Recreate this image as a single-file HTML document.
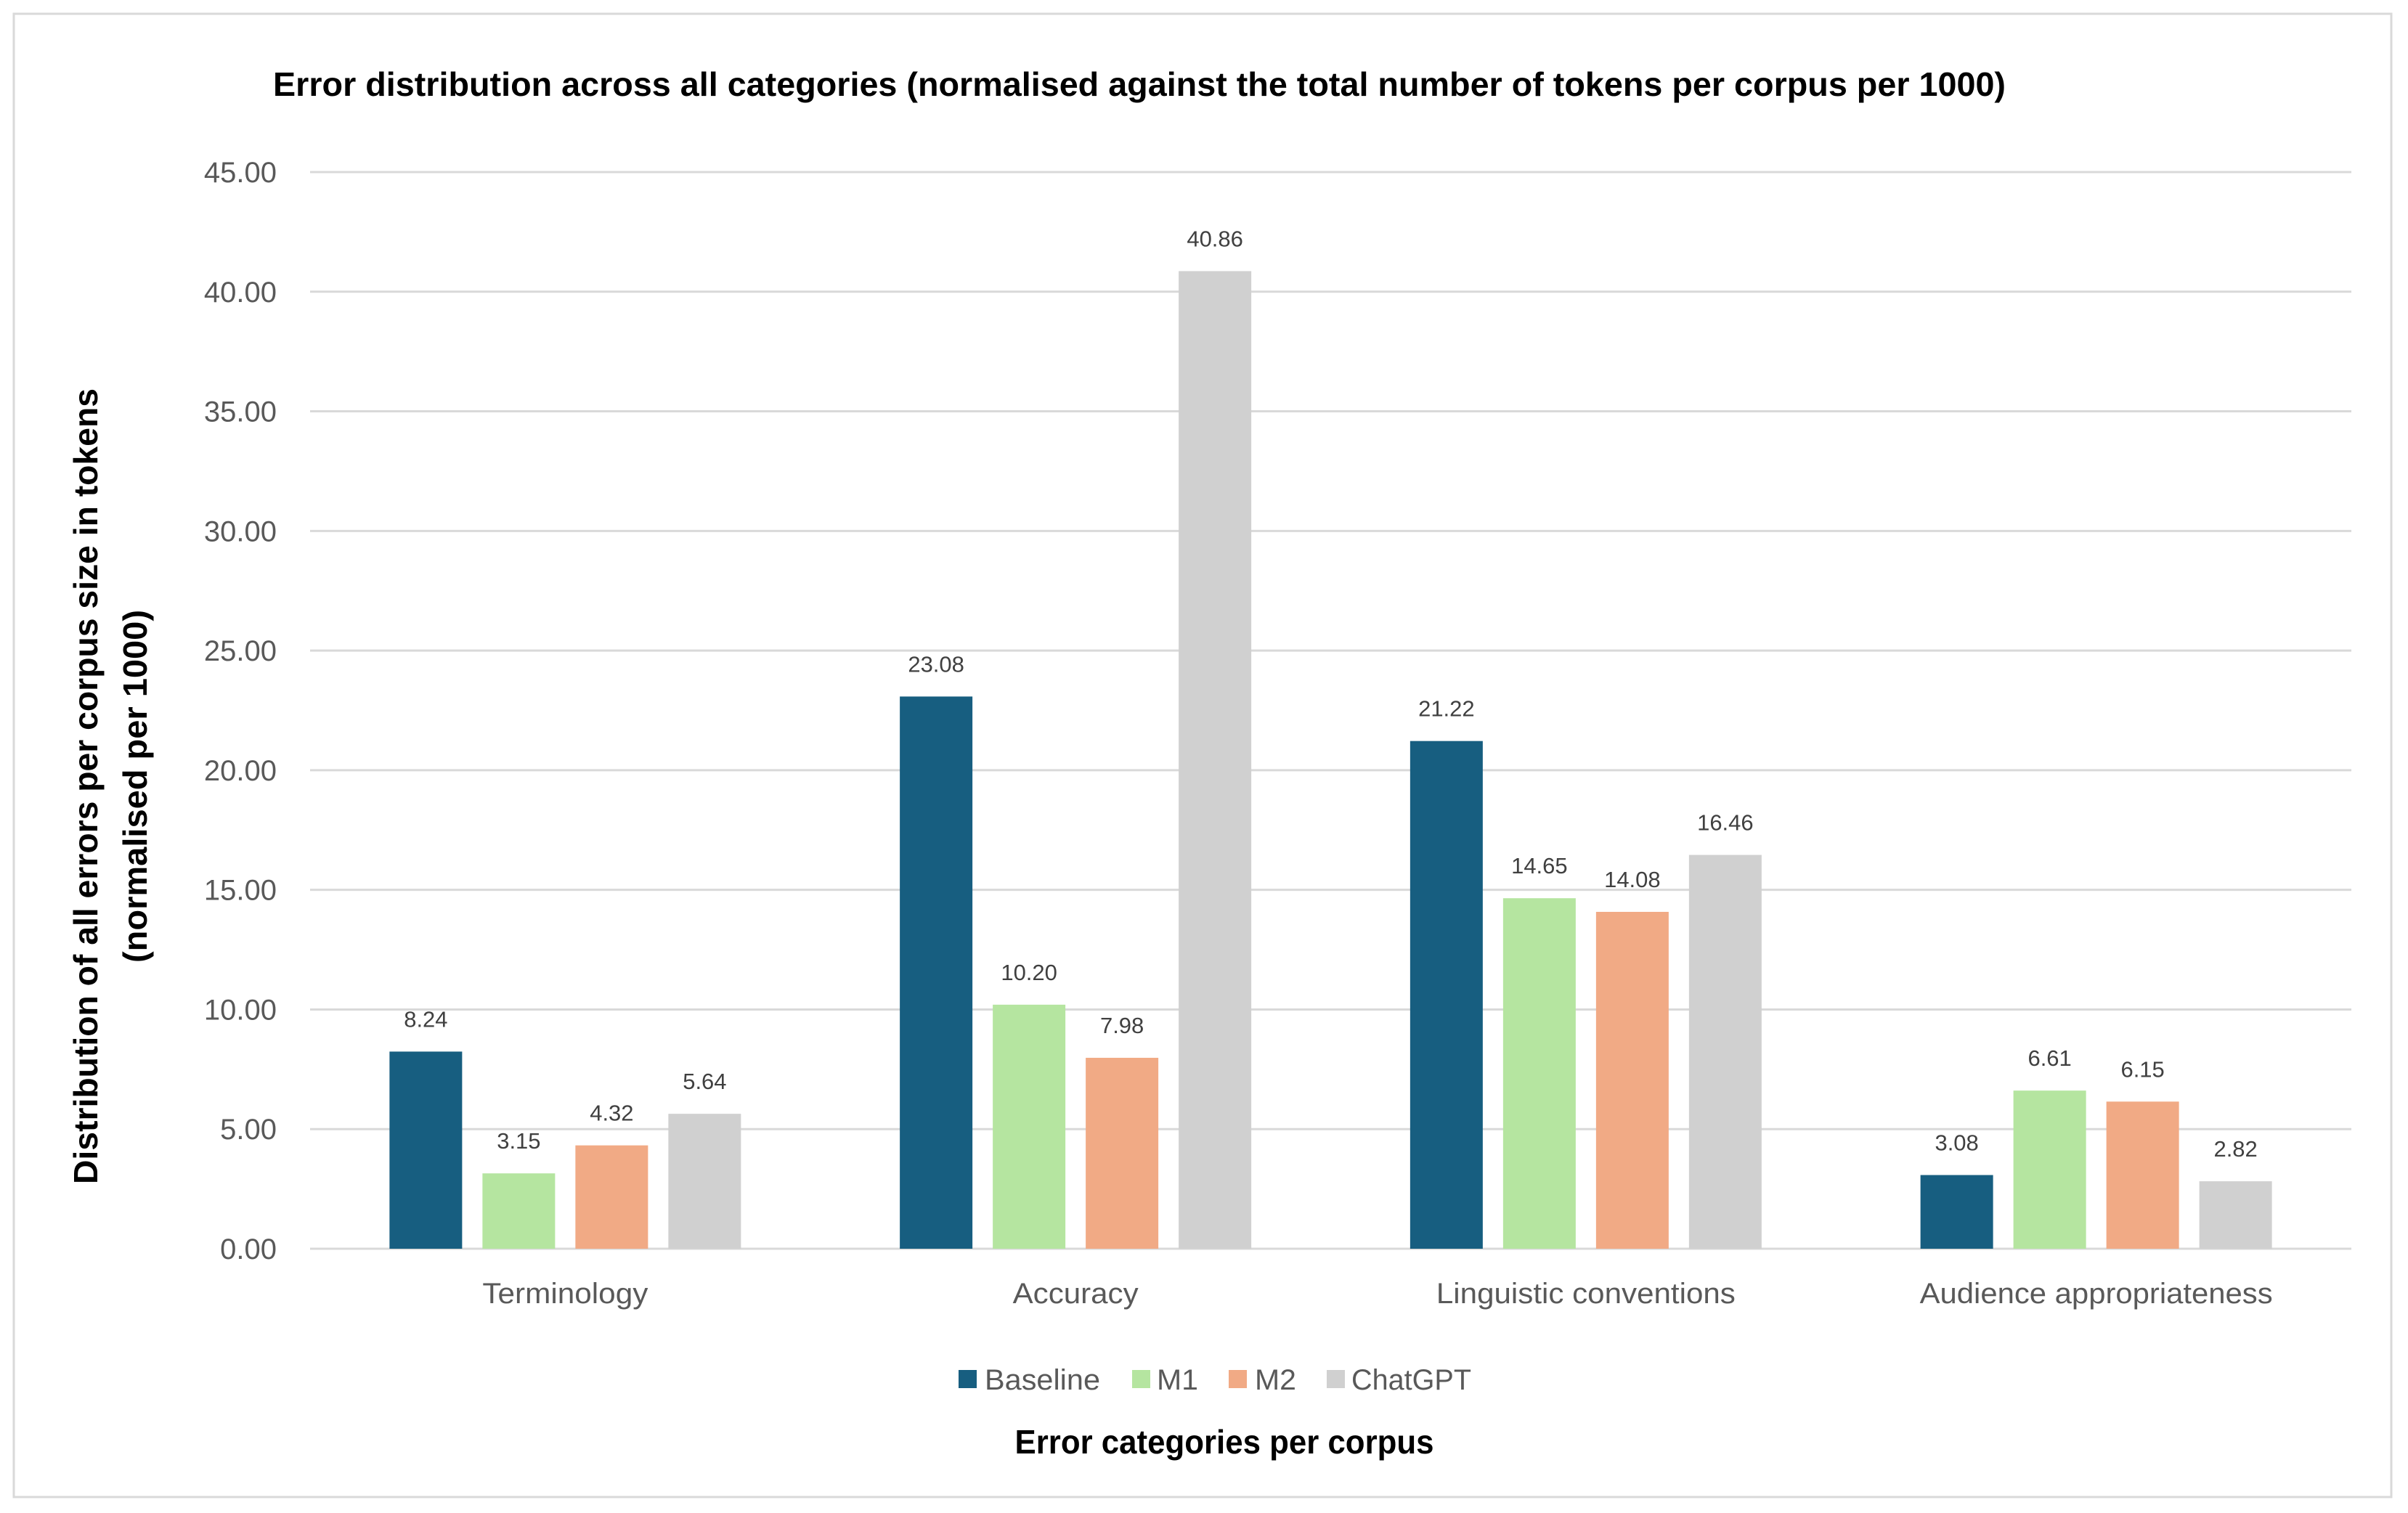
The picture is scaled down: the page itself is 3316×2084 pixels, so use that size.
<!DOCTYPE html>
<html><head><meta charset="utf-8"><style>
html,body{margin:0;padding:0;background:#fff;}
svg{display:block;font-family:"Liberation Sans Narrow","Liberation Sans",sans-serif;}
</style></head><body>
<svg id="chart" width="3316" height="2084" viewBox="0 0 3316 2084" xmlns="http://www.w3.org/2000/svg">
<rect x="19" y="19" width="3274" height="2043" fill="#fff" stroke="#d9d9d9" stroke-width="3"/>
<text x="1569" y="132" text-anchor="middle" font-size="46" font-weight="bold" fill="#000" textLength="2386" lengthAdjust="spacingAndGlyphs">Error distribution across all categories (normalised against the total number of tokens per corpus per 1000)</text>
<g id="grid"></g>
<g id="bars"></g>
<g transform="translate(118,1083) rotate(-90)">
<text x="0" y="16" text-anchor="middle" font-size="46" font-weight="bold" fill="#000" textLength="1096" lengthAdjust="spacingAndGlyphs">Distribution of all errors per corpus size in tokens</text>
<text x="0" y="84" text-anchor="middle" font-size="46" font-weight="bold" fill="#000" textLength="486" lengthAdjust="spacingAndGlyphs">(normalised per 1000)</text>
</g>
<text x="1686" y="2002" text-anchor="middle" font-size="46" font-weight="bold" fill="#000" textLength="577" lengthAdjust="spacingAndGlyphs">Error categories per corpus</text>
<g>
<g><rect x="1320" y="1887" width="25" height="25" fill="#175e80"/><text x="1356" y="1914" font-size="40" fill="#595959" textLength="159" lengthAdjust="spacingAndGlyphs">Baseline</text></g>
<g><rect x="1559" y="1887" width="25" height="25" fill="#b5e5a0"/><text x="1593" y="1914" font-size="40" fill="#595959" textLength="57" lengthAdjust="spacingAndGlyphs">M1</text></g>
<g><rect x="1692" y="1887" width="25" height="25" fill="#f1aa85"/><text x="1728" y="1914" font-size="40" fill="#595959" textLength="57" lengthAdjust="spacingAndGlyphs">M2</text></g>
<g><rect x="1827" y="1887" width="25" height="25" fill="#d0d0d0"/><text x="1861" y="1914" font-size="40" fill="#595959" textLength="165" lengthAdjust="spacingAndGlyphs">ChatGPT</text></g>
</g>
</svg>
<script>
const categories = ["Terminology", "Accuracy", "Linguistic conventions", "Audience appropriateness"];
const baseline = [8.24, 23.08, 21.22, 3.08];
const m1 = [3.15, 10.20, 14.65, 6.61];
const m2 = [4.32, 7.98, 14.08, 6.15];
const chatgpt = [5.64, 40.86, 16.46, 2.82];
const yTicks = [0, 5, 10, 15, 20, 25, 30, 35, 40, 45];

const NS = "http://www.w3.org/2000/svg";
const plotLeft = 427, plotRight = 3238, plotTop = 237, plotBottom = 1720, yMax = 45;
const catW = (plotRight - plotLeft) / categories.length;
const barW = 100, gap = 28;
function yScale(v){ return plotBottom - v / yMax * (plotBottom - plotTop); }
function xCat(i){ return plotLeft + i * catW; }
const catLabelW = [228, 173, 412, 486];
const series = [
  {name: "baseline", vals: baseline, color: "#175e80"},
  {name: "m1", vals: m1, color: "#b5e5a0"},
  {name: "m2", vals: m2, color: "#f1aa85"},
  {name: "chatgpt", vals: chatgpt, color: "#d0d0d0"}
];
const grid = document.getElementById("grid");
const bars = document.getElementById("bars");
yTicks.forEach(function(t){
  const y = yScale(t);
  const l = document.createElementNS(NS, "line");
  l.setAttribute("x1", plotLeft); l.setAttribute("x2", plotRight);
  l.setAttribute("y1", y); l.setAttribute("y2", y);
  l.setAttribute("stroke", "#d9d9d9"); l.setAttribute("stroke-width", "3");
  
  
  grid.appendChild(l);
  const tx = document.createElementNS(NS, "text");
  tx.setAttribute("x", 381); tx.setAttribute("y", y + 14);
  tx.setAttribute("text-anchor", "end"); tx.setAttribute("font-size", "40");
  tx.setAttribute("fill", "#595959");
  tx.textContent = t.toFixed(2);
  
  
  grid.appendChild(tx);
});
const groupW = 4 * barW + 3 * gap;
categories.forEach(function(c, i){
  const x0 = xCat(i) + (catW - groupW) / 2;
  series.forEach(function(s, j){
    const v = s.vals[i];
    const x = x0 + j * (barW + gap);
    const r = document.createElementNS(NS, "rect");
    r.setAttribute("x", x); r.setAttribute("y", yScale(v));
    r.setAttribute("width", barW); r.setAttribute("height", yScale(0) - yScale(v));
    r.setAttribute("fill", s.color);
    
    
    bars.appendChild(r);
    const lb = document.createElementNS(NS, "text");
    lb.setAttribute("x", x + barW / 2); lb.setAttribute("y", yScale(v) - 34);
    lb.setAttribute("text-anchor", "middle"); lb.setAttribute("font-size", "31");
    lb.setAttribute("fill", "#404040");
    lb.textContent = v.toFixed(2);
    
    
    bars.appendChild(lb);
  });
  const cl = document.createElementNS(NS, "text");
  cl.setAttribute("x", xCat(i) + catW / 2); cl.setAttribute("y", 1795);
  cl.setAttribute("text-anchor", "middle"); cl.setAttribute("font-size", "40");
  cl.setAttribute("fill", "#595959");
  cl.setAttribute("textLength", catLabelW[i]); cl.setAttribute("lengthAdjust", "spacingAndGlyphs");
  cl.textContent = c;
  
  
  bars.appendChild(cl);
});
</script>
</body></html>
